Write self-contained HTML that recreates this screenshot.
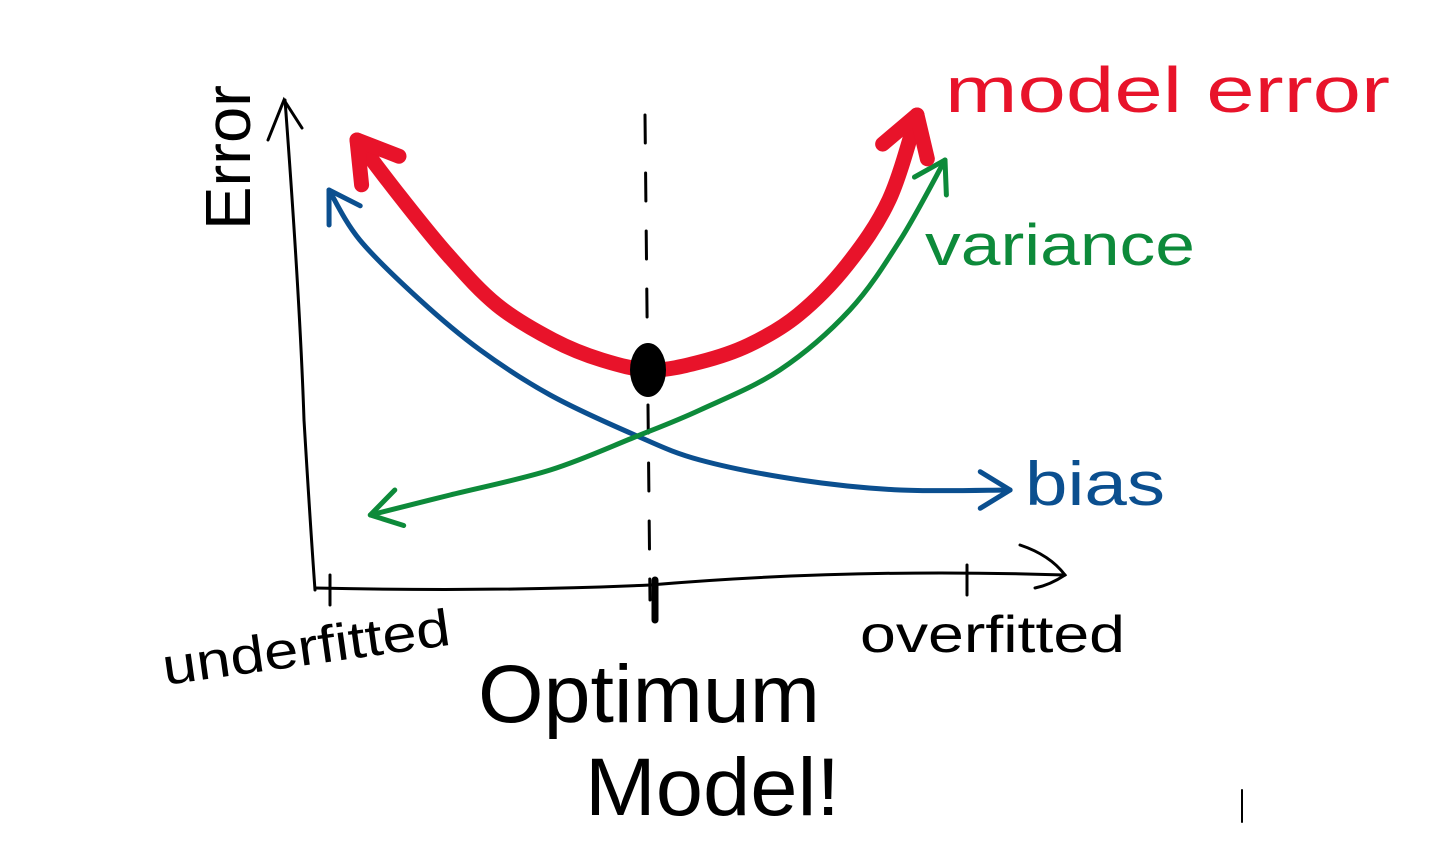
<!DOCTYPE html>
<html><head><meta charset="utf-8"><style>
html,body{margin:0;padding:0;background:#fff;}
svg{display:block;}
text{font-family:"Liberation Sans",sans-serif;}
</style></head><body>
<svg id="chart" width="1446" height="848" viewBox="0 0 1446 848" xmlns="http://www.w3.org/2000/svg">
<rect width="1446" height="848" fill="#fff"/>
<g id="axes" stroke="#000" stroke-width="3" fill="none" stroke-linecap="round">
  <path d="M285 100 Q300 300 304 420 Q310 520 315 590"/>
  <path d="M268 140 L284 100 L302 128"/>
  <path d="M315 588 Q500 592 650 585 Q850 568 1065 575"/>
  <path d="M1020 545 Q1050 555 1065 575 Q1050 585 1035 588"/>
  <path d="M330 575 L330 605"/>
  <path d="M967 565 L967 595"/>
  <path d="M655 580 L655 620" stroke-width="7"/>
  <path d="M645 115 L650 600" stroke-dasharray="28 30"/>
  <path d="M1242 790 L1242 822" stroke-width="2"/>
</g>
<g id="series"></g>
<ellipse cx="648" cy="370" rx="18" ry="27" fill="#000"/>
<text x="250" y="230" transform="rotate(-90 250 230)" font-size="64" fill="#000" textLength="145" lengthAdjust="spacingAndGlyphs">Error</text>
<text x="945" y="112" font-size="64" fill="#e8132a" textLength="445" lengthAdjust="spacingAndGlyphs">model error</text>
<text x="925" y="265" font-size="58" fill="#0d8a3a" textLength="270" lengthAdjust="spacingAndGlyphs">variance</text>
<text x="1025" y="505" font-size="62" fill="#0b4f8f" textLength="140" lengthAdjust="spacingAndGlyphs">bias</text>
<text x="165" y="685" font-size="52" fill="#000" transform="rotate(-8 165 685)" textLength="290" lengthAdjust="spacingAndGlyphs">underfitted</text>
<text x="860" y="652" font-size="52" fill="#000" textLength="265" lengthAdjust="spacingAndGlyphs">overfitted</text>
<text x="478" y="722" font-size="82" fill="#000" textLength="342" lengthAdjust="spacingAndGlyphs">Optimum</text>
<text x="585" y="815" font-size="82" fill="#000" textLength="255" lengthAdjust="spacingAndGlyphs">Model!</text>
</svg>
<script>
const errX = [6, 12, 19, 26, 34, 41, 48, 55, 62, 69, 76, 82, 86];
const errY = [90, 79, 67, 57, 50, 46, 44, 45.6, 49, 55, 65, 78, 95];
const biasX = [2, 6.4, 15, 23.6, 33.6, 45.7, 55, 69.3, 83.6, 99.3];
const biasY = [80, 70, 58, 48, 39, 31, 26, 22, 20, 20];
const varX = [7.9, 19.3, 33.6, 45.7, 55, 66.4, 76.4, 83.6, 90];
const varY = [15, 19, 24, 30.6, 36, 44, 56, 70, 86];

function sx(x){ return 315 + x * 7; }
function sy(y){ return 590 - y * 5; }
function smooth(xs, ys){
  const p = xs.map((x,i)=>[sx(x), sy(ys[i])]);
  let d = 'M' + p[0][0] + ' ' + p[0][1];
  for (let i=0;i<p.length-1;i++){
    const p0=p[Math.max(0,i-1)], p1=p[i], p2=p[i+1], p3=p[Math.min(p.length-1,i+2)];
    const c1=[p1[0]+(p2[0]-p0[0])/6, p1[1]+(p2[1]-p0[1])/6];
    const c2=[p2[0]-(p3[0]-p1[0])/6, p2[1]-(p3[1]-p1[1])/6];
    d += ` C${c1[0]} ${c1[1]} ${c2[0]} ${c2[1]} ${p2[0]} ${p2[1]}`;
  }
  return {d, p};
}
function arrow(g, tip, prev, color, w, len, name){
  const ang = Math.atan2(tip[1]-prev[1], tip[0]-prev[0]);
  const a1 = ang + Math.PI - 0.55, a2 = ang + Math.PI + 0.55;
  const path = document.createElementNS('http://www.w3.org/2000/svg','path');
  path.setAttribute('d', `M${tip[0]+len*Math.cos(a1)} ${tip[1]+len*Math.sin(a1)} L${tip[0]} ${tip[1]} L${tip[0]+len*Math.cos(a2)} ${tip[1]+len*Math.sin(a2)}`);
  path.setAttribute('stroke', color); path.setAttribute('stroke-width', w);
  path.setAttribute('fill','none'); path.setAttribute('stroke-linecap','round'); path.setAttribute('stroke-linejoin','round');
  
  
  g.appendChild(path);
}
function draw(xs, ys, color, w, name){
  const g = document.getElementById('series');
  const s = smooth(xs, ys);
  const path = document.createElementNS('http://www.w3.org/2000/svg','path');
  path.setAttribute('d', s.d);
  path.setAttribute('stroke', color); path.setAttribute('stroke-width', w);
  path.setAttribute('fill','none'); path.setAttribute('stroke-linecap','round');
  
  
  g.appendChild(path);
  const n = s.p.length;
  arrow(g, s.p[n-1], s.p[n-2], color, w, w>8?45:35, name + '-arrow-end');
  arrow(g, s.p[0], s.p[1], color, w, w>8?45:35, name + '-arrow-start');
}
draw(biasX, biasY, '#0b4f8f', 5, 'bias-curve');
draw(varX, varY, '#0d8a3a', 5, 'variance-curve');
draw(errX, errY, '#e8132a', 15, 'model-error-curve');
</script>
</body></html>
